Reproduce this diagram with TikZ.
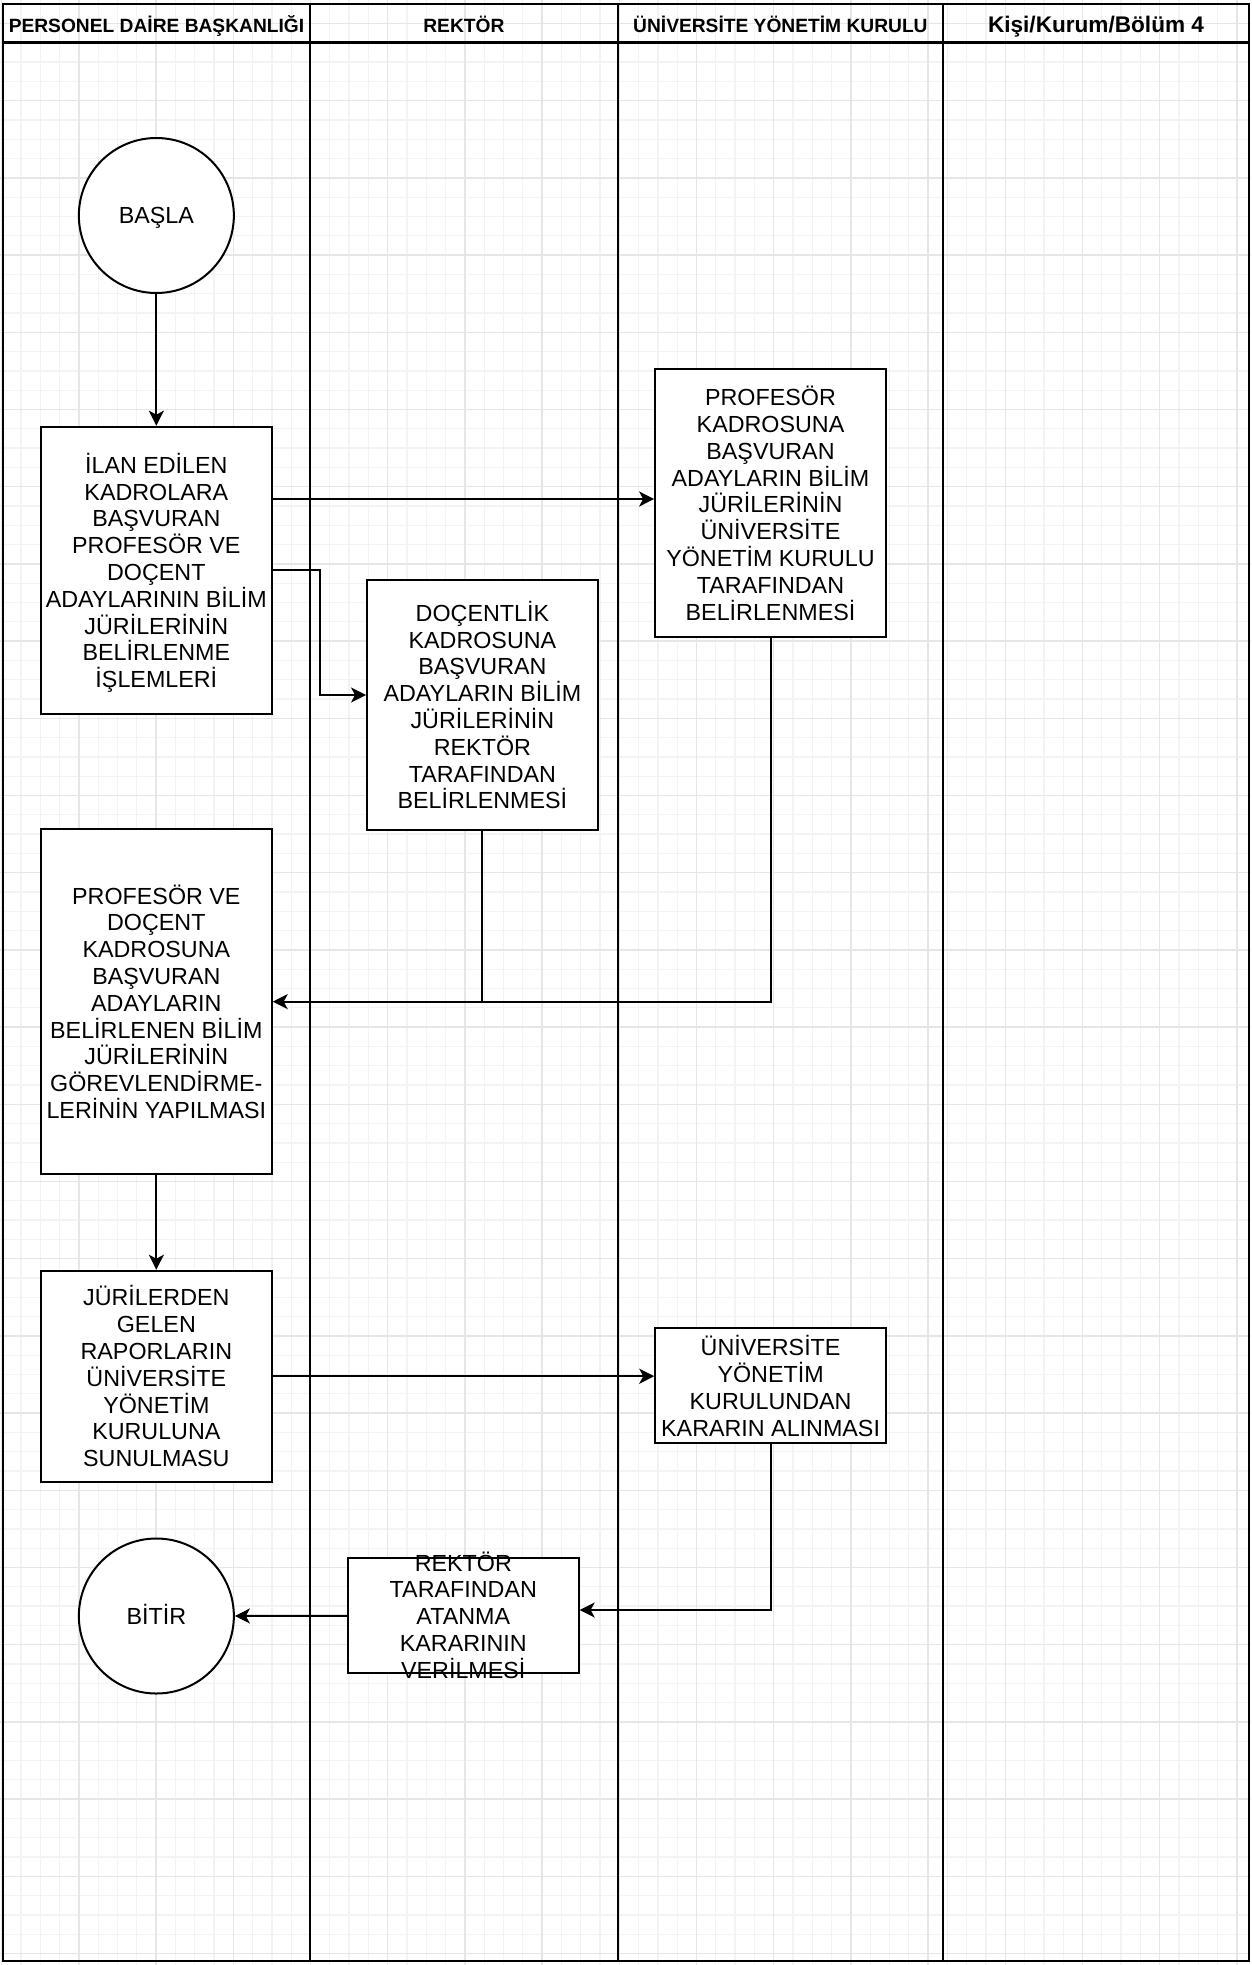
\documentclass[tikz,border=0pt]{standalone}
\usepackage{fontspec}
\setmainfont{Liberation Sans}
\usetikzlibrary{arrows.meta}
\definecolor{gridminor}{RGB}{243,243,243}
\definecolor{gridmajor}{RGB}{230,230,230}
\newcommand\boxfont{\fontsize{23.3}{26.8}\selectfont}
\newcommand\headfont{\fontsize{19.2}{22}\selectfont\bfseries}
\newcommand\headfontwide{\fontsize{22.6}{26}\selectfont\bfseries}
\begin{document}
\begin{tikzpicture}[x=1pt,y=-1pt,
  proc/.style={draw, line width=2pt, fill=white, rectangle, inner sep=0pt,
    align=center, font=\boxfont, minimum width=230.7pt},
  term/.style={draw, line width=2pt, fill=white, circle, inner sep=0pt,
    minimum size=155pt, font=\boxfont, text height=16.7pt, text depth=0pt},
  txt/.style={align=center, font=\boxfont, inner sep=0pt},
  arr/.style={line width=2pt, -{Stealth[length=15pt,width=15pt,inset=4pt]}},
  link/.style={line width=2pt},
  lane/.style={line width=2.6pt},
  lanehead/.style={font=\headfont, inner sep=0pt, anchor=base},
  gminor/.style={draw=gridminor, line width=1.3pt},
  gmajor/.style={draw=gridmajor, line width=1.5pt},
]
\useasboundingbox (0,0) rectangle (1251,1965);
\fill[white] (0,0) rectangle (1251,1965);

% background grid
\foreach \k in {0,...,64} {
  \pgfmathsetmacro\gx{1.7+19.3*\k}
  \draw[gminor] (\gx,0) -- (\gx,1965);
}
\foreach \k in {0,...,101} {
  \pgfmathsetmacro\gy{4.2+19.3*\k}
  \draw[gminor] (0,\gy) -- (1251,\gy);
}
\foreach \k in {0,...,16} {
  \pgfmathsetmacro\gx{1.7+77.2*\k}
  \draw[gmajor] (\gx,0) -- (\gx,1965);
}
\foreach \k in {0,...,25} {
  \pgfmathsetmacro\gy{23.5+77.2*\k}
  \draw[gmajor] (0,\gy) -- (1251,\gy);
}

% swimlanes
\draw[lane] (3,4) rectangle (1249,1961);
\draw[lane] (3,42.7) -- (1249,42.7);
\foreach \x in {310,617.8,943} \draw[lane] (\x,4) -- (\x,1961);

\node[lanehead] (h1) at (156.5,32.3) {PERSONEL DAİRE BAŞKANLIĞI};
\node[lanehead] (h2) at (463.9,32.3) {REKTÖR};
\node[lanehead] (h3) at (780.4,32.3) {ÜNİVERSİTE YÖNETİM KURULU};
\node[lanehead, font=\headfontwide] (h4) at (1096,32.3) {Kişi/Kurum/Bölüm 4};

% process steps
\node[term] (start) at (156.35,215.5) {BAŞLA};
\node[proc, minimum height=287.3pt] (b1) at (156.35,570.35)
  {İLAN EDİLEN\\KADROLARA\\BAŞVURAN\\PROFESÖR VE\\DOÇENT\\ADAYLARININ BİLİM\\JÜRİLERİNİN\\BELİRLENME\\\smash{İŞLEMLERİ}};
\node[proc, minimum height=268pt] (b2) at (770.5,503.3)
  {PROFESÖR\\KADROSUNA\\BAŞVURAN\\ADAYLARIN BİLİM\\JÜRİLERİNİN\\ÜNİVERSİTE\\YÖNETİM KURULU\\TARAFINDAN\\BELİRLENMESİ};
\node[proc, minimum height=250pt] (b3) at (482.4,705)
  {DOÇENTLİK\\KADROSUNA\\BAŞVURAN\\ADAYLARIN BİLİM\\JÜRİLERİNİN\\REKTÖR\\TARAFINDAN\\BELİRLENMESİ};
\node[proc, minimum height=344.7pt] (b4) at (156.35,1001.65)
  {PROFESÖR VE\\DOÇENT\\KADROSUNA\\BAŞVURAN\\ADAYLARIN\\BELİRLENEN BİLİM\\JÜRİLERİNİN\\GÖREVLENDİRME-\\LERİNİN YAPILMASI};
\node[proc, minimum height=211pt] (b5) at (156.35,1376.2)
  {JÜRİLERDEN\\GELEN\\RAPORLARIN\\ÜNİVERSİTE\\YÖNETİM\\KURULUNA\\SUNULMASU};
\node[proc, minimum height=115pt] (b6) at (770.6,1385.8)
  {ÜNİVERSİTE\\YÖNETİM\\KURULUNDAN\\KARARIN ALINMASI};
\node[proc, minimum height=115pt] (b7) at (463.3,1615.8) {};
\node[txt] (b7text) at (463.3,1615)
  {REKTÖR\\TARAFINDAN\\ATANMA\\KARARININ\\VERİLMESİ};
\node[term] (end) at (156.35,1616) {BİTİR};

% connectors
\draw[arr] (start.south) -- (b1.north);
\coordinate (inb2) at ([yshift=4.3pt]b2.west);
\draw[arr] (b1.east |- inb2) -- (inb2);
\coordinate (inb3) at ([yshift=10pt]b3.west);
\draw[arr] (b1.east) -- ++(47,0) |- (inb3);
\draw[link] (b2.south) |- (b3.south |- b4.east);
\draw[arr] (b3.south) |- (b4.east);
\draw[arr] (b4.south) -- (b5.north);
\draw[arr] (b5.east) -- (b5.east -| b6.west);
\coordinate (inb7) at ([yshift=5.8pt]b7.east);
\draw[arr] (b6.south) |- (inb7);
\draw[arr] (b7.west) -- (end.east);
\end{tikzpicture}
\end{document}
